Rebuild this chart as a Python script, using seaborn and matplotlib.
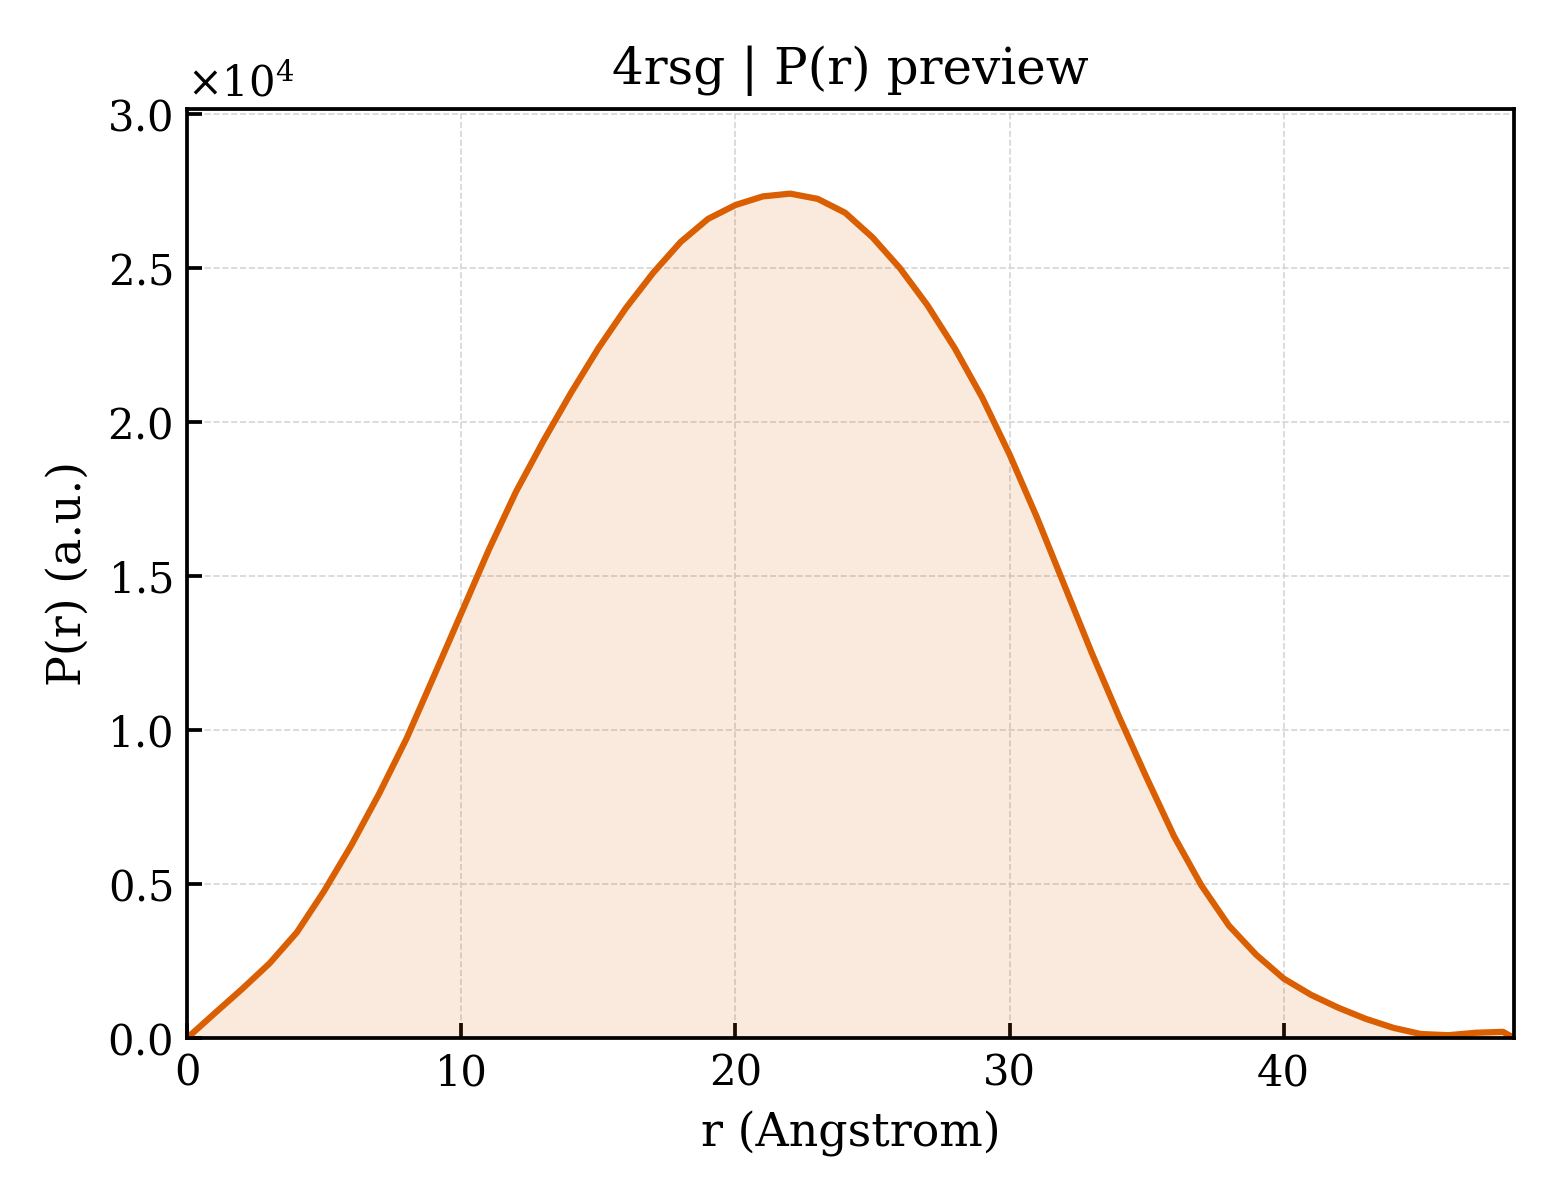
import numpy as np
import pandas as pd
import matplotlib
matplotlib.use("Agg")
import matplotlib.pyplot as plt
import seaborn as sns
from matplotlib.ticker import ScalarFormatter

# P(r) curve
r_angstrom = [0, 1, 2, 3, 4, 5, 6, 7, 8, 9, 10, 11, 12, 13, 14, 15, 16, 17,
              18, 19, 20, 21, 22, 23, 24, 25, 26, 27, 28, 29, 30, 31, 32, 33,
              34, 35, 36, 37, 38, 39, 40, 41, 42, 43, 44, 45, 46, 47, 48, 48.4]
p_r = [0, 800, 1590, 2420, 3430, 4780, 6280, 7930, 9720, 11750, 13800,
       15850, 17750, 19400, 20950, 22400, 23700, 24850, 25850, 26600, 27050,
       27330, 27420, 27250, 26800, 26000, 25000, 23800, 22400, 20800, 18950,
       16900, 14700, 12500, 10420, 8450, 6550, 4950, 3650, 2700, 1930, 1400,
       980, 620, 330, 130, 90, 170, 200, 0]

title = "4rsg | P(r) preview"
line_color = "#d95f02"

df = pd.DataFrame({"r": r_angstrom, "p": p_r})

sns.set_style("ticks")
plt.rcParams["font.family"] = ["DejaVu Serif"]
plt.rcParams["mathtext.fontset"] = "dejavuserif"
for key in ["text.color", "axes.labelcolor", "xtick.color", "ytick.color",
            "axes.edgecolor"]:
    plt.rcParams[key] = "black"

fig, ax = plt.subplots(figsize=(5.2, 4), dpi=300)
fig.subplots_adjust(left=0.12, right=0.9705, top=0.909, bottom=0.135)

ax.fill_between(df["r"], df["p"], 0, color=line_color, alpha=0.13, linewidth=0)
sns.lineplot(data=df, x="r", y="p", ax=ax, color=line_color, linewidth=1.5)

ax.set_xlim(0, max(r_angstrom))
ax.set_ylim(0, 1.1 * max(p_r))
ax.set_xticks([0, 10, 20, 30, 40])

fmt = ScalarFormatter(useMathText=True)
fmt.set_powerlimits((0, 0))
ax.yaxis.set_major_formatter(fmt)
ax.yaxis.get_offset_text().set_fontsize(10)

ax.grid(True, linestyle="--", linewidth=0.4, color="#d5d5d5")
ax.tick_params(direction="in", length=3.5, width=0.9, labelsize=10)
for s in ax.spines.values():
    s.set_linewidth(0.9)

ax.set_title(title, fontsize=12)
ax.set_xlabel("r (Angstrom)", fontsize=11)
ax.set_ylabel("P(r) (a.u.)", fontsize=11)

fig.savefig("out.png", dpi=300)
